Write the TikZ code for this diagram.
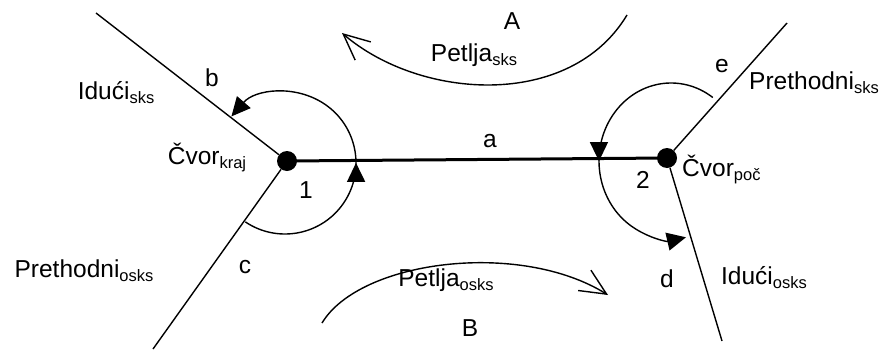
\documentclass[tikz,border=0pt]{standalone}
\usepackage{fontspec}
\setmainfont{Liberation Sans}
\usetikzlibrary{arrows.meta,decorations.markings}
\newcommand\sbs[1]{\raisebox{-4pt}{\fontsize{16.5}{17}\selectfont #1}}
\tikzset{
  lbl/.style={inner sep=0pt,font=\fontsize{24.5}{27}\selectfont},
  dot/.style={circle,fill=black,minimum size=20pt,inner sep=0pt},
  edgeline/.style={line width=1.4pt},
  mainedge/.style={line width=3pt},
  turnarc/.style={line width=1.4pt},
  looparrow/.style={line width=1.4pt,-{Straight Barb[length=26pt,width=24pt,line width=1.4pt]}},
  Ftri/.tip={Triangle[length=19pt,width=18pt]}
}
\begin{document}
\begin{tikzpicture}[x=1pt,y=-1pt]
\useasboundingbox (0,0) rectangle (885,351);
% nodes
\node[dot] (L) at (287,161) {};
\node[dot] (R) at (667,158) {};
\coordinate (bEnd) at (96,13);
\coordinate (cEnd) at (153,349);
\coordinate (eEnd) at (787,23);
\coordinate (dEnd) at (722,341);
% edges
\draw[mainedge] (L.center) -- (R.center);
\draw[edgeline] (bEnd) -- (L);
\draw[edgeline] (cEnd) -- (L);
\draw[edgeline] (eEnd) -- (R);
\draw[edgeline] (dEnd) -- (R);
% turning arcs
\draw[turnarc,-{Ftri},
  postaction={decorate,decoration={markings,mark=at position 0.472 with {\arrow{Ftri}}}}]
  ([shift={(124:71)}]L.center) ++(-2,2) arc[start angle=124,end angle=-139,radius=71];
\draw[turnarc,-{Ftri},
  postaction={decorate,decoration={markings,mark=at position 0.551 with {\arrow{Ftri}}}}]
  ([shift={(-54.5:72 and 78)}]R.center) ++(4,3) arc[start angle=-54.5,end angle=-282,x radius=72,y radius=78];
% loops
\coordinate (A1) at (627,15);
\coordinate (A2) at (342,33);
\coordinate (B1) at (322,323);
\coordinate (B2) at (608,295);
\draw[looparrow] (A1) .. controls (570,110) and (420,100) .. (A2);
\draw[looparrow] (B1) .. controls (360,260) and (520,240) .. (B2);
% labels
\node[lbl] (tA) at (512,21) {A};
\node[lbl] (tPs) at (474,55) {Petlja\sbs{sks}};
\node[lbl] (tIs) at (116,93) {Idući\sbs{sks}};
\node[lbl] (tb) at (212,78) {b};
\node[lbl] (tCk) at (207,158) {Čvor\sbs{kraj}};
\node[lbl] (t1) at (306,190) {1};
\node[lbl] (ta) at (490,141) {a};
\node[lbl] (tPo) at (84,271) {Prethodni\sbs{osks}};
\node[lbl] (tc) at (245,267) {c};
\node[lbl] (tPso) at (446,280) {Petlja\sbs{osks}};
\node[lbl] (tB) at (470,328) {B};
\node[lbl] (te) at (722,66) {e};
\node[lbl] (tPrs) at (814,83) {Prethodni\sbs{sks}};
\node[lbl,anchor=west] (tCp) at (682,170) {Čvor\sbs{poč}};
\node[lbl] (t2) at (643,180) {2};
\node[lbl] (td) at (667,279) {d};
\node[lbl] (tIo) at (764,278) {Idući\sbs{osks}};
\end{tikzpicture}
\end{document}
